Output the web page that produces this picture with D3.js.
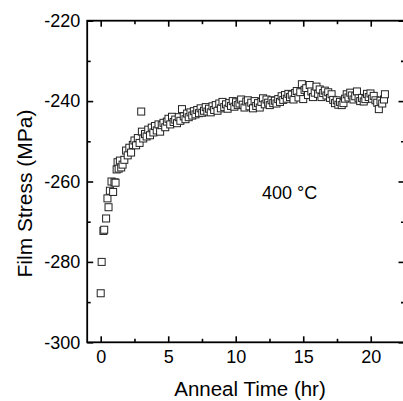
<!DOCTYPE html>
<html>
<head>
<meta charset="utf-8">
<script src="https://cdn.jsdelivr.net/npm/d3@7"></script>
<style>
  html, body { margin: 0; padding: 0; background: #fff; }
  svg { display: block; font-family: "Liberation Sans", Arial, sans-serif; }
  .domain { display: none; }
</style>
</head>
<body>
<div class="chart"></div>
<script>
// anneal time (hr) and film stress (MPa)
var times = [0.00, 0.07, 0.20, 0.26, 0.40, 0.50, 0.58, 0.68, 0.80, 0.92, 1.02, 1.10, 1.18, 1.25, 1.33, 1.42, 1.52, 1.62, 1.75, 1.88,
    2.00, 2.12, 2.25, 2.38, 2.50, 2.62, 2.75, 2.88, 3.00, 3.05, 3.15, 3.28, 3.40, 3.52, 3.65, 3.78, 3.90, 4.02, 4.15, 4.28,
    4.40, 4.52, 4.65, 4.78, 4.90, 5.02, 5.15, 5.28, 5.40, 5.52, 5.65, 5.78, 5.90, 6.02, 6.15, 6.28, 6.40, 6.52, 6.65, 6.78,
    6.90, 7.02, 7.15, 7.28, 7.40, 7.52, 7.65, 7.78, 7.90, 8.02, 8.15, 8.28, 8.40, 8.52, 8.65, 8.78, 8.90, 9.02, 9.15, 9.28,
    9.40, 9.52, 9.65, 9.78, 9.90, 10.02, 10.15, 10.28, 10.40, 10.52, 10.65, 10.78, 10.90, 11.02, 11.15, 11.28, 11.40, 11.52, 11.65, 11.78,
    11.90, 12.02, 12.15, 12.28, 12.40, 12.52, 12.65, 12.78, 12.90, 13.02, 13.15, 13.28, 13.40, 13.52, 13.65, 13.78, 13.90, 14.02, 14.15, 14.28,
    14.40, 14.52, 14.65, 14.78, 14.90, 15.00, 15.10, 15.22, 15.35, 15.48, 15.60, 15.72, 15.85, 15.98, 16.10, 16.22, 16.35, 16.48, 16.60, 16.72,
    16.85, 16.98, 17.10, 17.22, 17.35, 17.48, 17.60, 17.72, 17.85, 17.98, 18.10, 18.22, 18.35, 18.48, 18.60, 18.72, 18.85, 18.98, 19.10, 19.22,
    19.35, 19.48, 19.60, 19.72, 19.85, 19.98, 20.10, 20.22, 20.35, 20.48, 20.60, 20.72, 20.85, 20.98, 21.05];
var stress = [-287.8, -280.0, -272.3, -272.0, -269.2, -264.2, -266.4, -262.3, -260.0, -262.6, -260.2, -260.3, -257.0, -255.2, -256.8, -254.8, -256.5, -255.8, -254.6, -252.3,
    -253.5, -251.6, -252.8, -250.9, -249.8, -251.0, -249.2, -250.4, -242.6, -247.6, -249.3, -248.2, -248.8, -247.1, -248.5, -246.6, -247.8, -246.2, -247.3, -245.8,
    -247.6, -246.0, -245.4, -246.5, -245.1, -244.4, -245.8, -243.9, -245.2, -244.6, -245.5, -244.0, -244.9, -242.0, -243.8, -244.5, -243.1, -244.0, -242.8, -243.6,
    -242.5, -243.3, -242.2, -243.0, -241.8, -242.9, -242.4, -241.5, -242.6, -241.9, -242.8, -241.3, -242.2, -241.0, -242.4, -240.6, -241.8, -240.2, -241.5, -240.8,
    -241.9, -240.5, -241.2, -240.0, -241.4, -240.3, -241.0, -240.6, -239.6, -240.9, -241.6, -240.1, -239.8, -241.3, -240.4, -241.8, -240.0, -241.2, -240.5, -241.6,
    -240.2, -239.3, -240.8, -239.6, -240.4, -241.0, -239.8, -240.5, -239.9, -240.6, -239.5, -240.2, -238.8, -239.7, -238.5, -239.4, -238.2, -239.0, -238.4, -239.6,
    -238.0, -237.5, -239.1, -237.8, -235.8, -239.5, -237.2, -236.8, -238.5, -236.0, -237.6, -239.0, -237.9, -236.4, -238.2, -237.1, -239.0, -238.0, -237.4, -238.6,
    -237.8, -239.2, -238.3, -239.7, -240.5, -239.8, -240.9, -240.2, -241.0, -240.5, -239.4, -238.3, -239.1, -237.9, -238.6, -239.6, -238.8, -237.6, -239.3, -240.0,
    -239.2, -240.1, -239.5, -238.2, -239.0, -238.1, -239.4, -238.7, -239.8, -240.4, -242.0, -239.9, -240.6, -239.6, -238.3];

var xTicks = [0, 5, 10, 15, 20];
var xMinor = [2.5, 7.5, 12.5, 17.5, 22.5];
var yTicks = [-300, -280, -260, -240, -220];
var yMinor = [-290, -270, -250, -230];
var label = "400 °C";

var width = 403, height = 401;
var margin = { left: 87.2, top: 20.7, right: 404.5, bottom: 342.3 };

var svg = d3.select(".chart")
    .append("svg")
    .attr("width", width)
    .attr("height", height);

var x = d3.scaleLinear().domain([-1, 22.5]).range([margin.left, margin.right]);
var y = d3.scaleLinear().domain([-300, -220]).range([margin.bottom, margin.top]);

// major + minor ticks, all pointing inward
function styleTicks(g) {
    g.selectAll(".tick line").attr("stroke", "#000").attr("stroke-width", 1.6);
    g.selectAll(".tick text").attr("fill", "#000").style("font-size", "18px");
}

svg.append("g").attr("transform", "translate(0," + margin.bottom + ")")
    .call(d3.axisBottom(x).tickValues(xTicks).tickSizeInner(-6).tickSizeOuter(0).tickPadding(8))
    .call(styleTicks);
svg.append("g").attr("transform", "translate(0," + margin.bottom + ")")
    .call(d3.axisBottom(x).tickValues(xMinor).tickSizeInner(-3.5).tickSizeOuter(0).tickFormat(""))
    .call(styleTicks);
svg.append("g").attr("transform", "translate(0," + margin.top + ")")
    .call(d3.axisTop(x).tickValues(xTicks).tickSizeInner(-6).tickSizeOuter(0).tickFormat(""))
    .call(styleTicks);
svg.append("g").attr("transform", "translate(0," + margin.top + ")")
    .call(d3.axisTop(x).tickValues(xMinor).tickSizeInner(-3.5).tickSizeOuter(0).tickFormat(""))
    .call(styleTicks);

svg.append("g").attr("transform", "translate(" + margin.left + ",0)")
    .call(d3.axisLeft(y).tickValues(yTicks).tickSizeInner(-6).tickSizeOuter(0).tickPadding(7)
        .tickFormat(function (d) { return String(d) }))
    .call(styleTicks);
svg.append("g").attr("transform", "translate(" + margin.left + ",0)")
    .call(d3.axisLeft(y).tickValues(yMinor).tickSizeInner(-3.5).tickSizeOuter(0).tickFormat(""))
    .call(styleTicks);
svg.append("g").attr("transform", "translate(" + margin.right + ",0)")
    .call(d3.axisRight(y).tickValues(yTicks).tickSizeInner(-6).tickSizeOuter(0).tickFormat(""))
    .call(styleTicks);
svg.append("g").attr("transform", "translate(" + margin.right + ",0)")
    .call(d3.axisRight(y).tickValues(yMinor).tickSizeInner(-3.5).tickSizeOuter(0).tickFormat(""))
    .call(styleTicks);

// frame
svg.append("rect")
    .attr("x", margin.left)
    .attr("y", margin.top)
    .attr("width", margin.right - margin.left)
    .attr("height", margin.bottom - margin.top)
    .attr("fill", "none")
    .attr("stroke", "#000")
    .attr("stroke-width", 1.8);

// open squares
var s = 7;
svg.selectAll("pts")
    .data(d3.zip(times, stress))
    .enter()
    .append("rect")
    .attr("x", function (d) { return x(d[0]) - s / 2 })
    .attr("y", function (d) { return y(d[1]) - s / 2 })
    .attr("width", s)
    .attr("height", s)
    .attr("fill", "#fff")
    .attr("stroke", "#222")
    .attr("stroke-width", 1);

svg.append("text")
    .attr("x", 262)
    .attr("y", 199)
    .style("font-size", "18px")
    .text(label);

svg.append("text")
    .attr("x", 250)
    .attr("y", 396)
    .style("text-anchor", "middle")
    .style("font-size", "20.5px")
    .text("Anneal Time (hr)");

svg.append("text")
    .attr("transform", "rotate(-90)")
    .attr("x", -193.5)
    .attr("y", 32)
    .style("text-anchor", "middle")
    .style("font-size", "21px")
    .text("Film Stress (MPa)");
</script>
</body>
</html>
